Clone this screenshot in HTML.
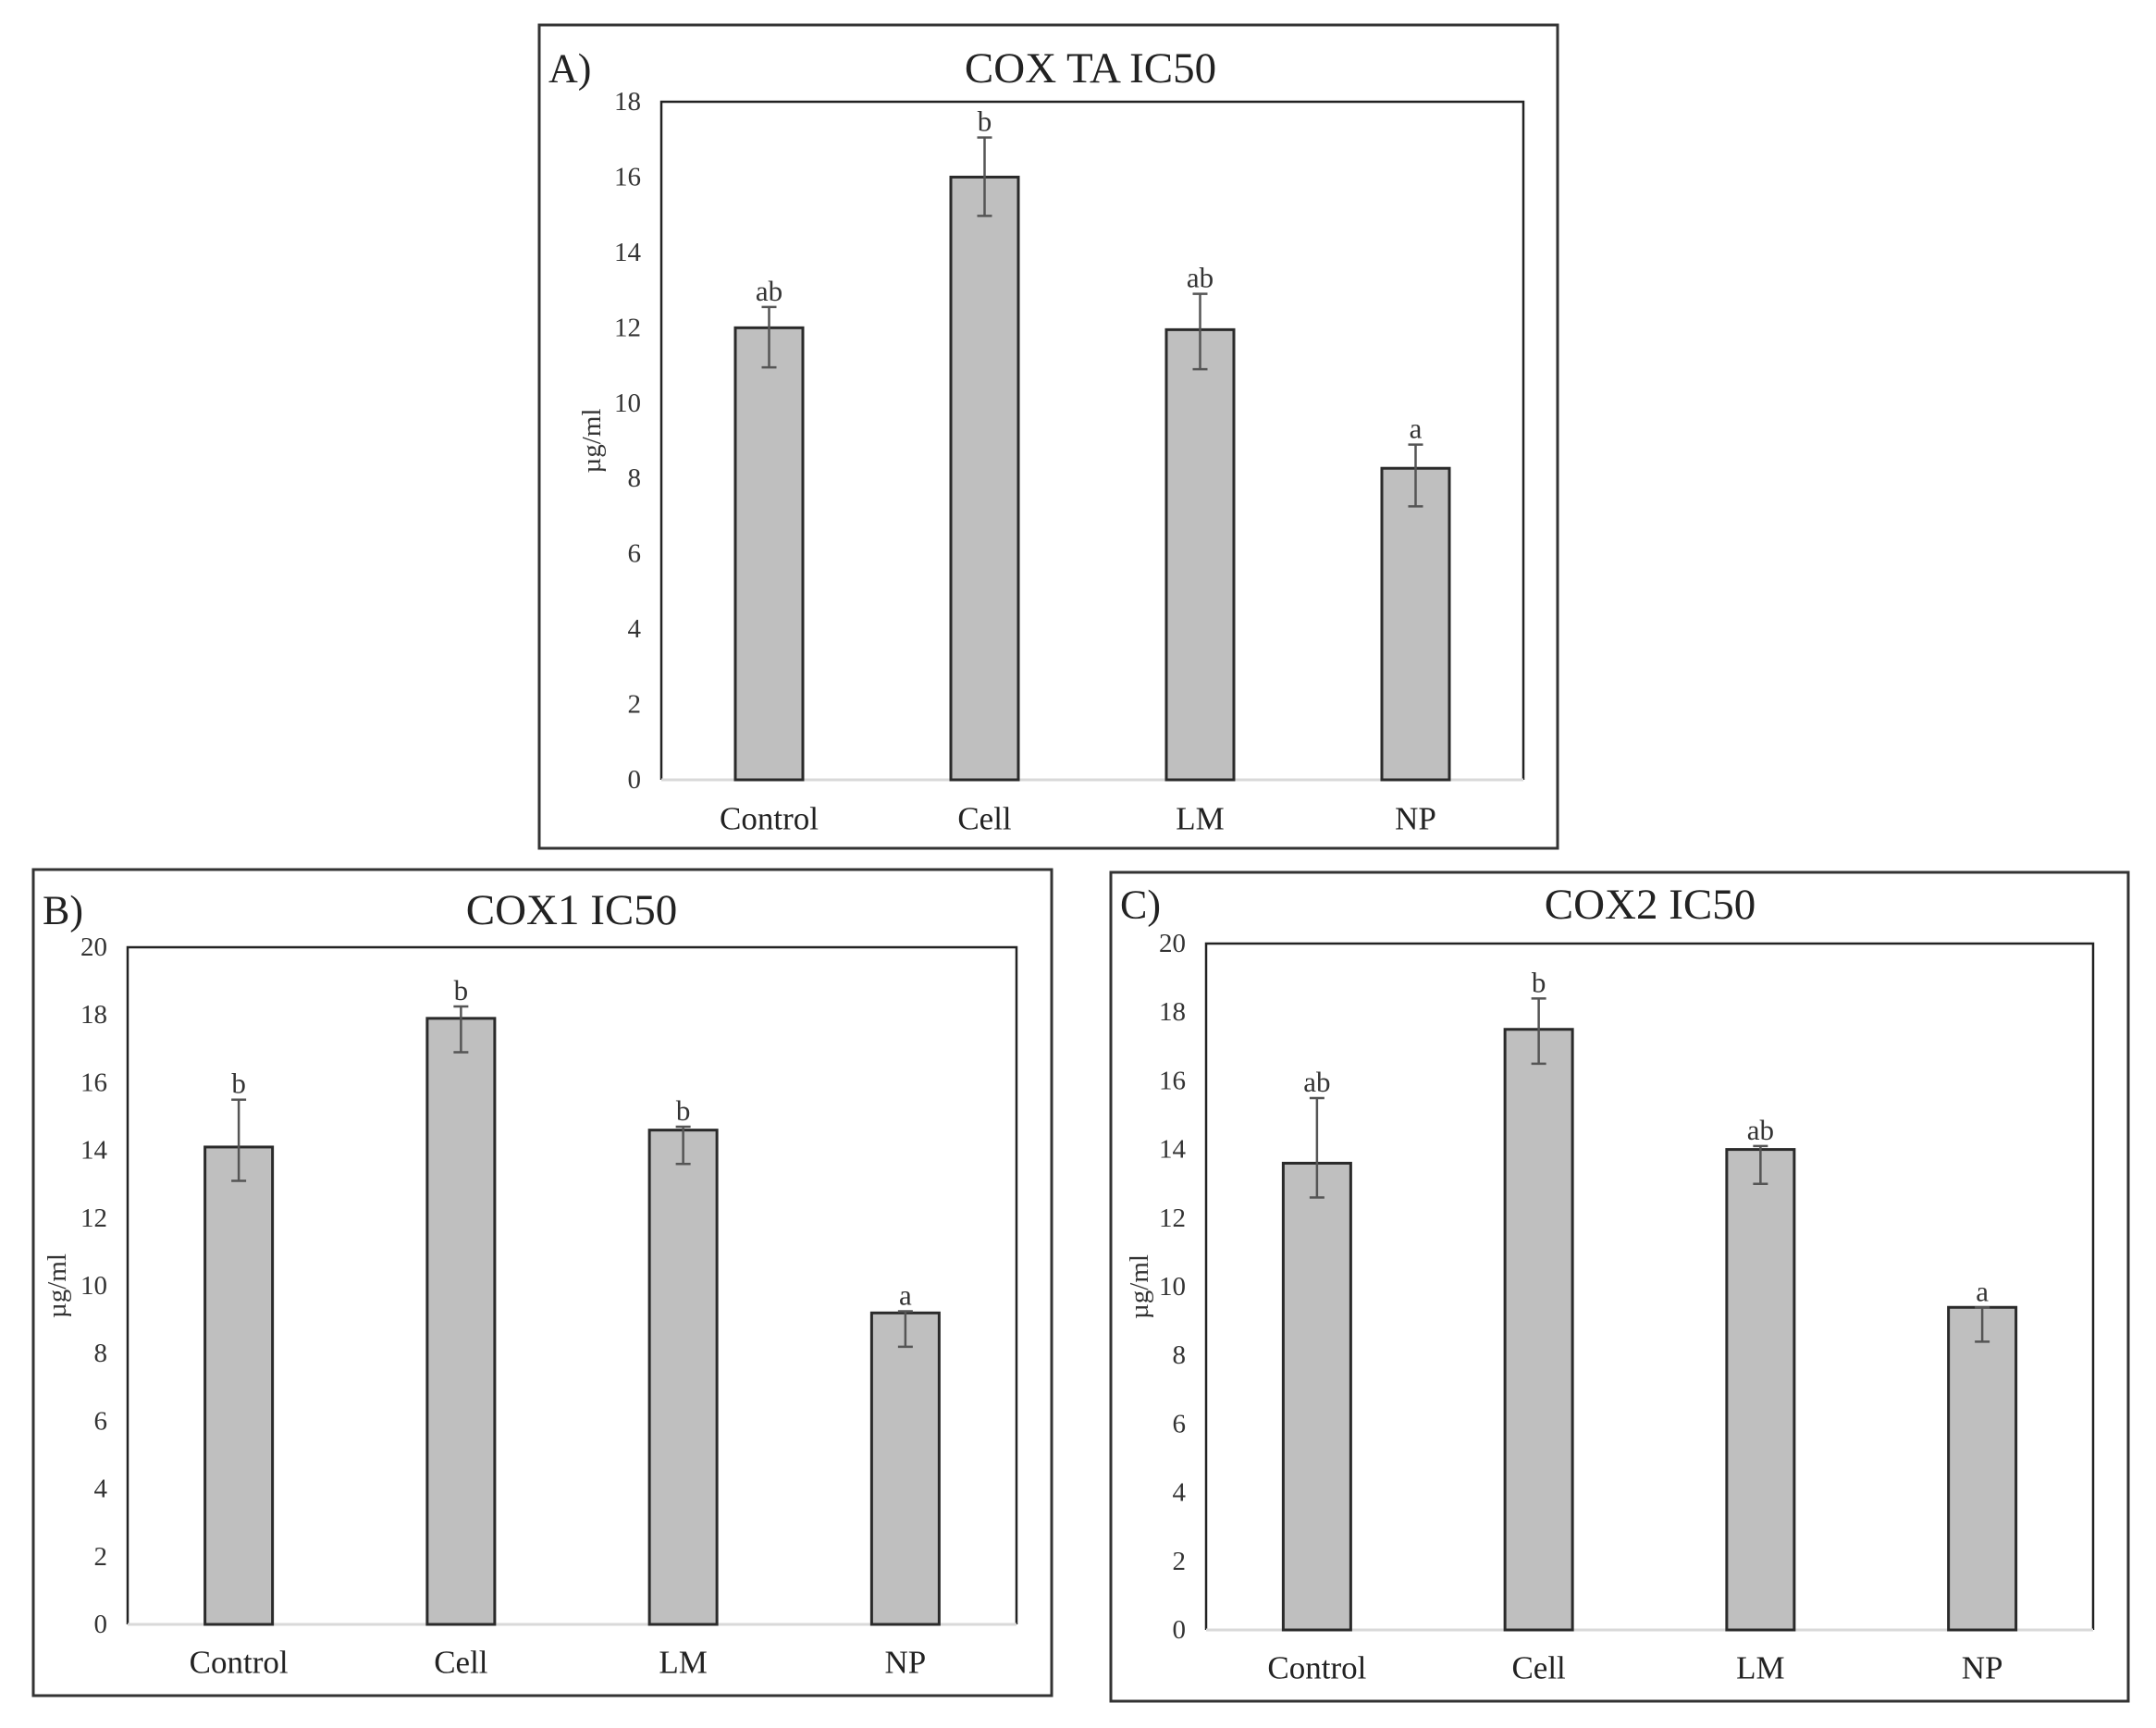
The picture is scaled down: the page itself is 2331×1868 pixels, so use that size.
<!DOCTYPE html>
<html><head><meta charset="utf-8"><style>
html,body{margin:0;padding:0;background:#fff;}
svg{display:block;font-family:"Liberation Serif",serif;}
</style></head><body>
<svg id="fig" width="2331" height="1868" viewBox="0 0 2331 1868"></svg>
<script>
const categories = ["Control","Cell","LM","NP"];
const valuesA = [12.0, 16.0, 11.95, 8.27];
const errUpA = [0.55, 1.05, 0.95, 0.63];
const errDnA = [1.05, 1.03, 1.05, 1.01];
const lettersA = ["ab","b","ab","a"];
const ticksA = [0,2,4,6,8,10,12,14,16,18];
const valuesB = [14.1, 17.9, 14.6, 9.2];
const errUpB = [1.4, 0.35, 0.1, 0.05];
const errDnB = [1.0, 1.0, 1.0, 1.0];
const lettersB = ["b","b","b","a"];
const ticksB = [0,2,4,6,8,10,12,14,16,18,20];
const valuesC = [13.6, 17.5, 14.0, 9.4];
const errUpC = [1.9, 0.9, 0.1, 0.0];
const errDnC = [1.0, 1.0, 1.0, 1.0];
const lettersC = ["ab","b","ab","a"];
const ticksC = [0,2,4,6,8,10,12,14,16,18,20];

const NS="http://www.w3.org/2000/svg";
const svg=document.getElementById('fig');
function mk(tag,attrs,parent,text){const e=document.createElementNS(NS,tag);for(const k in attrs)e.setAttribute(k,attrs[k]);if(text!==undefined)e.textContent=text;parent.appendChild(e);return e;}

function panel(cfg){
  const g=mk('g',{},svg);
  
  
  const box=mk('rect',{x:cfg.box[0],y:cfg.box[1],width:cfg.box[2]-cfg.box[0],height:cfg.box[3]-cfg.box[1],fill:'none',stroke:'#333',"stroke-width":3},g);
  
  
  const [L,T,R,B]=cfg.plot;
  const ymax=cfg.ticks[cfg.ticks.length-1];
  const ys=v=>B-(v/ymax)*(B-T);
  const band=(R-L)/categories.length;
  const xs=i=>L+band*(i+0.5);
  const pf=mk('path',{d:`M${L},${B} L${L},${T} L${R},${T} L${R},${B}`,fill:'none',stroke:'#222',"stroke-width":2.5},g);
  
  
  const xa=mk('line',{x1:L,y1:B,x2:R,y2:B,stroke:'#d9d9d9',"stroke-width":3},g);
  
  
  const t=mk('text',{x:cfg.title[0],y:cfg.title[1],"font-size":47,"text-anchor":"middle","dominant-baseline":"central",fill:'#222'},g,cfg.titleText);
  
  
  const lb=mk('text',{x:cfg.box[0]+10,y:cfg.title[1],"font-size":44,"dominant-baseline":"central",fill:'#222'},g,cfg.label);
  
  
  cfg.ticks.forEach(v=>{
    const tk=mk('text',{x:L-22,y:ys(v),"font-size":29,"text-anchor":"end","dominant-baseline":"central",fill:'#333'},g,String(v));
    
    
  });
  const cy=(T+B)/2;
  const yl=mk('text',{x:cfg.ylab,y:cy,"font-size":29,"text-anchor":"middle","dominant-baseline":"central",fill:'#333',transform:'rotate(-90 '+cfg.ylab+' '+cy+')'},g,'µg/ml');
  
  
  const bw=73;
  categories.forEach((c,i)=>{
    const x=xs(i),v=cfg.values[i];
    const r=mk('rect',{x:x-bw/2,y:ys(v),width:bw,height:B-ys(v),fill:'#bfbfbf',stroke:'#2a2a2a',"stroke-width":3},g);
    
    
    const hi=ys(v+cfg.up[i]),lo=ys(v-cfg.dn[i]);
    const e=mk('path',{d:`M${x},${hi} L${x},${lo} M${x-8},${hi} L${x+8},${hi} M${x-8},${lo} L${x+8},${lo}`,stroke:'#555',"stroke-width":2.5,fill:'none'},g);
    
    
    const l=mk('text',{x:x,y:hi-7,"font-size":31,"text-anchor":"middle",fill:'#333'},g,cfg.letters[i]);
    
    
    const cl=mk('text',{x:x,y:cfg.catY,"font-size":35,"text-anchor":"middle","dominant-baseline":"central",fill:'#222'},g,c);
    
    
  });
}
panel({id:'cox-ta',label:'A)',titleText:'COX TA IC50',box:[583,27,1684,917],plot:[715,110,1647,843],title:[1179,74],catY:885,ylab:640,values:valuesA,up:errUpA,dn:errDnA,letters:lettersA,ticks:ticksA});
panel({id:'cox1',label:'B)',titleText:'COX1 IC50',box:[36,940,1137,1833],plot:[138,1024,1099,1756],title:[618,984],catY:1797,ylab:62,values:valuesB,up:errUpB,dn:errDnB,letters:lettersB,ticks:ticksB});
panel({id:'cox2',label:'C)',titleText:'COX2 IC50',box:[1201,943,2301,1839],plot:[1304,1020,2263,1762],title:[1784,978],catY:1803,ylab:1232,values:valuesC,up:errUpC,dn:errDnC,letters:lettersC,ticks:ticksC});
</script>
</body></html>
